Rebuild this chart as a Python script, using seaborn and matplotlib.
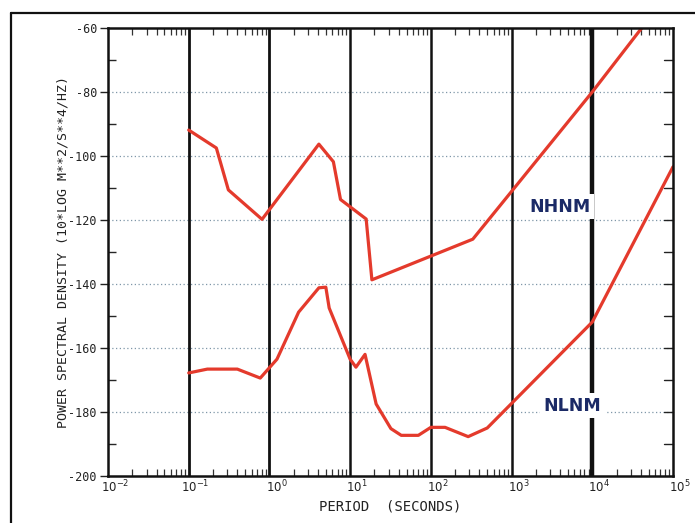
import matplotlib
matplotlib.use("Agg")
import matplotlib.pyplot as plt
import matplotlib.transforms as mtransforms
from matplotlib.lines import Line2D
from matplotlib.ticker import FixedLocator, NullFormatter
import pandas as pd
import seaborn as sns

# Peterson (1993) noise models: period (s) and PSD (dB re 1 (m/s^2)^2/Hz)
nhnm_period = [0.1, 0.22, 0.31, 0.81, 4.1, 6.2, 7.6, 15.8, 18.6, 331, 1.0e4, 4.1e4]
nhnm_psd = [-91.9, -97.5, -110.6, -119.8, -96.3, -101.8, -113.6, -119.7, -138.7, -126.0, -80.0, -60.0]

nlnm_period = [0.1, 0.17, 0.4, 0.77, 1.24, 2.3, 4.1, 5.0, 5.5, 10.0, 11.8, 15.3,
               21.0, 32.0, 43.0, 70.0, 100.0, 150.0, 290.0, 500.0, 1.0e4, 1.0e5]
nlnm_psd = [-167.8, -166.6, -166.6, -169.4, -163.5, -148.8, -141.2, -141.0, -147.5, -163.5, -166.0, -162.0,
            -177.5, -185.2, -187.3, -187.3, -184.8, -184.8, -187.7, -185.0, -151.9, -103.4]

model_names = ["NHNM", "NLNM"]
label_pos = [(1.65e3, -115.9), (2.5e3, -178.1)]

decades = [1e-2, 1e-1, 1e0, 1e1, 1e2, 1e3, 1e4, 1e5]
decade_labels = [r"$10^{-2}$", r"$10^{-1}$", r"$10^{0}$", r"$10^{1}$",
                 r"$10^{2}$", r"$10^{3}$", r"$10^{4}$", r"$10^{5}$"]
decade_line_widths = [2.0, 2.0, 1.8, 1.8, 1.8, 3.2]
y_major = [-200, -180, -160, -140, -120, -100, -80, -60]
y_minor = [-190, -170, -150, -130, -110, -90, -70]

df = pd.concat([
    pd.DataFrame({"period": nhnm_period, "psd": nhnm_psd, "model": model_names[0]}),
    pd.DataFrame({"period": nlnm_period, "psd": nlnm_psd, "model": model_names[1]}),
])

sns.set_theme(style="white")
plt.rcParams["font.family"] = ["DejaVu Sans Mono", "DejaVu Sans"]
plt.rcParams["mathtext.fontset"] = "dejavusans"

fig = plt.figure(figsize=(6.95, 5.23), dpi=100)
ax = fig.add_axes([0.1554, 0.0899, 0.9683 - 0.1554, 0.9465 - 0.0899])

red = "#e43a2c"
sns.lineplot(data=df, x="period", y="psd", hue="model", palette=[red, red],
             legend=False, linewidth=2.3, ax=ax, estimator=None, sort=False)

ax.set_xscale("log")
ax.set_xlim(decades[0], decades[-1])
ax.set_ylim(y_major[0], y_major[-1])

# horizontal dotted grid
for y in y_major[1:-1]:
    ax.axhline(y, color="#7f97a8", linestyle=(0, (1, 2)), linewidth=0.9, zorder=0.5)

# heavy vertical lines at each inner decade
for x, lw in zip(decades[1:-1], decade_line_widths):
    ax.axvline(x, color="#111111", linewidth=lw, zorder=1)

# ticks
ax.xaxis.set_major_locator(FixedLocator(decades))
ax.set_xticklabels(decade_labels)
minor_x = [m * d for d in decades[:-1] for m in range(2, 10)]
ax.xaxis.set_minor_locator(FixedLocator(minor_x))
ax.xaxis.set_minor_formatter(NullFormatter())
ax.tick_params(axis="x", which="major", length=0, pad=2, labelsize=8.5, colors="#222222")
ax.tick_params(axis="x", which="minor", direction="in", length=5, width=0.9,
               top=True, bottom=True, color="#333333")

ax.yaxis.set_major_locator(FixedLocator(y_major))
ax.yaxis.set_minor_locator(FixedLocator(y_minor))
ax.set_yticklabels([str(v) for v in y_major])
ax.tick_params(axis="y", which="major", direction="out", length=6, width=1.0,
               pad=2, labelsize=8.5, colors="#222222", left=True)
ax.tick_params(axis="y", which="minor", direction="in", length=6, width=1.0, left=True)
# right side: inward ticks
for y in y_major[1:-1] + y_minor:
    ax.plot([0.985, 1.0], [y, y], transform=ax.get_yaxis_transform(),
            color="#222222", linewidth=1.0, clip_on=False)

offset = mtransforms.ScaledTranslation(7 / 100, 0, fig.dpi_scale_trans)
for lab in ax.get_xticklabels():
    lab.set_transform(lab.get_transform() + offset)

for sp in ax.spines.values():
    sp.set_color("#111111")
    sp.set_linewidth(1.8)

ax.set_xlabel("PERIOD  (SECONDS)", fontsize=10, color="#222222", labelpad=3)
ax.set_ylabel("POWER SPECTRAL DENSITY (10*LOG M**2/S**4/HZ)", fontsize=9.5,
              color="#222222", labelpad=-1)

for name, (lx, ly) in zip(model_names, label_pos):
    ax.text(lx, ly, name, fontsize=12.5, fontweight="bold", color="#1b2a66",
            family="DejaVu Sans", ha="left", va="center", zorder=5,
            bbox=dict(facecolor="white", edgecolor="none", pad=2.5))

# page frame
fig.add_artist(Line2D([11 / 695, 11 / 695], [0, 1 - 13 / 523], color="#111111", linewidth=1.6))
fig.add_artist(Line2D([11 / 695, 1], [1 - 13 / 523, 1 - 13 / 523], color="#111111", linewidth=1.6))

fig.savefig("out.png", dpi=100)
